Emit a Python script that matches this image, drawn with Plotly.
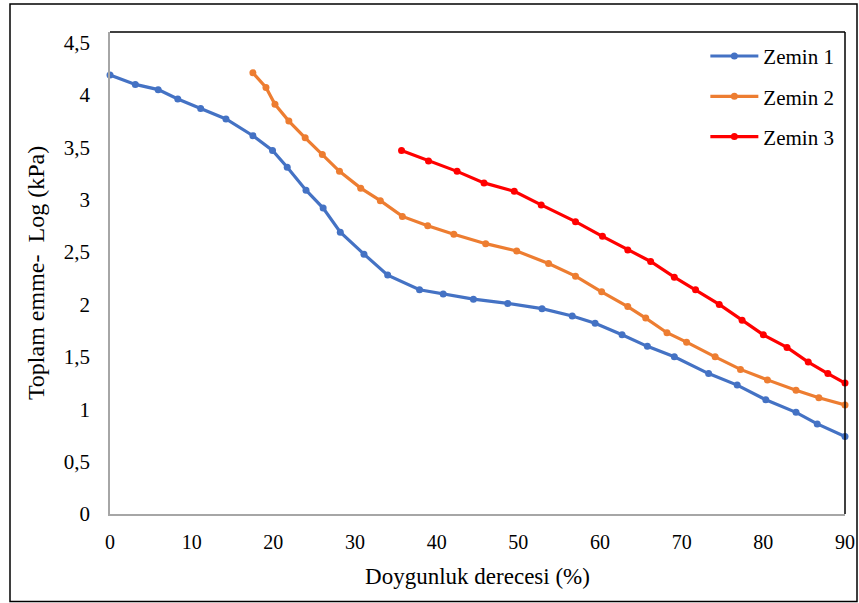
import plotly.graph_objects as go

# Zemin 1
z1_x = [0, 3.1, 5.9, 8.3, 11.1, 14.2, 17.5, 19.9, 21.7, 24.0, 26.1, 28.2, 31.1, 34.0, 37.9,
        40.8, 44.5, 48.7, 52.9, 56.6, 59.4, 62.7, 65.8, 69.1, 73.3, 76.8, 80.3, 84.0, 86.6, 90]
z1_y = [4.19, 4.10, 4.05, 3.96, 3.87, 3.77, 3.61, 3.47, 3.31, 3.09, 2.92, 2.69, 2.48, 2.28, 2.14,
        2.10, 2.05, 2.01, 1.96, 1.89, 1.82, 1.71, 1.60, 1.50, 1.34, 1.23, 1.09, 0.97, 0.86, 0.74]

# Zemin 2
z2_x = [17.5, 19.1, 20.2, 21.9, 23.9, 26.0, 28.1, 30.7, 33.1, 35.8, 38.9, 42.1, 46.0, 49.8,
        53.7, 57.0, 60.2, 63.4, 65.6, 68.2, 70.6, 74.1, 77.2, 80.5, 84.0, 86.8, 90]
z2_y = [4.21, 4.07, 3.91, 3.75, 3.59, 3.43, 3.27, 3.11, 2.99, 2.84, 2.75, 2.67, 2.58, 2.51,
        2.39, 2.27, 2.12, 1.98, 1.87, 1.73, 1.64, 1.50, 1.38, 1.28, 1.18, 1.11, 1.04]

# Zemin 3
z3_x = [35.7, 39.0, 42.5, 45.8, 49.5, 52.8, 57.0, 60.3, 63.4, 66.2, 69.1, 71.7, 74.6, 77.4,
        80.0, 82.9, 85.5, 87.9, 90]
z3_y = [3.47, 3.37, 3.27, 3.16, 3.08, 2.95, 2.79, 2.65, 2.52, 2.41, 2.26, 2.14, 2.00, 1.85,
        1.71, 1.59, 1.45, 1.34, 1.25]

names = ["Zemin 1", "Zemin 2", "Zemin 3"]
colors = ["#4472C4", "#ED7D31", "#FF0000"]
x_title = "Doygunluk derecesi (%)"
y_title = "Toplam emme-  Log (kPa)"
y_tickvals = [0, 0.5, 1, 1.5, 2, 2.5, 3, 3.5, 4, 4.5]
y_ticktext = ["0", "0,5", "1", "1,5", "2", "2,5", "3", "3,5", "4", "4,5"]

FONT = "Liberation Serif, Times New Roman, serif"

fig = go.Figure()
for i, (xs, ys) in enumerate([(z1_x, z1_y), (z2_x, z2_y), (z3_x, z3_y)]):
    fig.add_trace(go.Scatter(
        x=xs, y=ys, mode="lines+markers", name=names[i], legendgroup=names[i],
        line=dict(color=colors[i], width=3.2),
        marker=dict(color=colors[i], size=7),
        cliponaxis=False,
    ))

W, H = 859, 603
L, R, T, B = 110, 14, 32, 89

fig.update_layout(
    width=W, height=H, autosize=False,
    margin=dict(l=L, r=R, t=T, b=B, pad=0),
    paper_bgcolor="white", plot_bgcolor="white",
    separators=", ",
    font=dict(family=FONT, size=20, color="black"),
    showlegend=True,
    legend=dict(
        x=0.81, y=0.992, xanchor="left", yanchor="top",
        font=dict(family=FONT, size=21, color="black"),
        bgcolor="rgba(0,0,0,0)", borderwidth=0,
        tracegroupgap=10, itemwidth=48,
    ),
    xaxis=dict(
        range=[0, 90], tickmode="linear", tick0=0, dtick=10,
        showgrid=False, zeroline=False,
        showline=True, linecolor="#A6A6A6", linewidth=1.5,
        ticks="", ticklabelstandoff=9,
        tickfont=dict(family=FONT, size=20, color="black"),
        title=dict(text=x_title, font=dict(family=FONT, size=23, color="black"), standoff=16),
        automargin=False,
    ),
    yaxis=dict(
        range=[0, 4.6], tickmode="array",
        tickvals=y_tickvals, ticktext=y_ticktext,
        showgrid=False, zeroline=False,
        showline=True, linecolor="#A6A6A6", linewidth=1.5,
        ticks="", ticklabelstandoff=14,
        tickfont=dict(family=FONT, size=21, color="black"),
        title=dict(text=y_title, font=dict(family=FONT, size=24, color="black"), standoff=12),
        automargin=False,
    ),
)

pw = W - L - R
ph = H - T - B

def px_x(p):
    return (p - L) / pw

def px_y(p):
    return (H - B - p) / ph

shapes = [
    dict(type="line", xref="paper", yref="paper", x0=0, x1=1, y0=1, y1=1,
         line=dict(color="black", width=1.5)),
    dict(type="line", xref="paper", yref="paper", x0=1, x1=1, y0=0, y1=1,
         line=dict(color="black", width=1.5)),
    dict(type="rect", xref="paper", yref="paper",
         x0=px_x(10), x1=px_x(857), y0=px_y(601.5), y1=px_y(4),
         line=dict(color="black", width=1.5), fillcolor="rgba(0,0,0,0)", layer="below"),
]
fig.update_layout(shapes=shapes)

fig.write_html(
    "out.html",
    config={"displayModeBar": False},
    post_script="document.body.style.margin='0';document.body.style.padding='0';",
)
